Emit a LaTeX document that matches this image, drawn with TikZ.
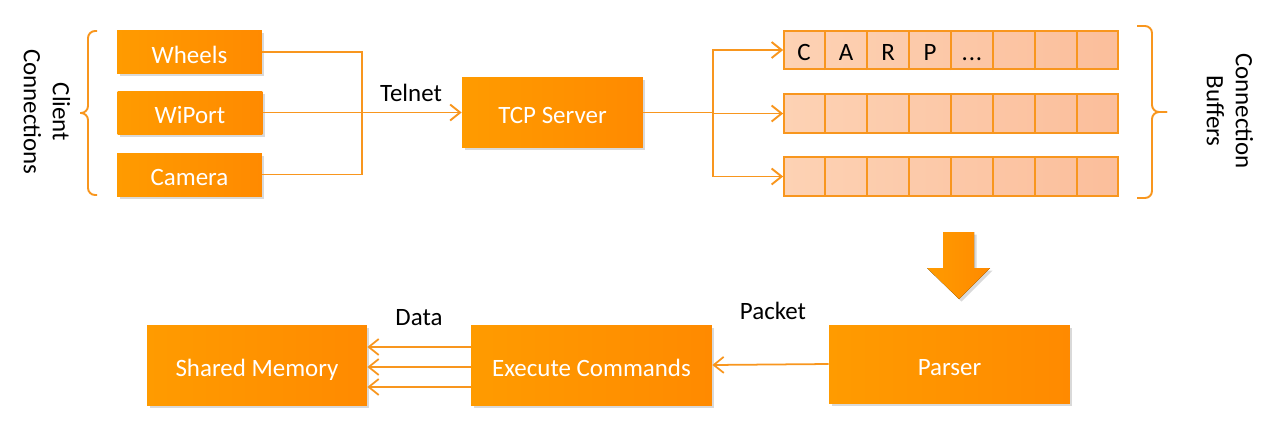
\documentclass[tikz,border=0pt]{standalone}
\usepackage{fontspec}
\setmainfont{Carlito}
\usetikzlibrary{calc,arrows.meta,shadows}
\definecolor{boxL}{RGB}{255,155,0}
\definecolor{boxR}{RGB}{255,138,0}
\definecolor{wire}{RGB}{248,150,30}
\definecolor{cellL}{RGB}{253,210,180}
\definecolor{cellR}{RGB}{251,190,155}
\def\celldots{.\kern0.5pt.\kern0.5pt.}
\tikzset{
	block/.style={left color=boxL, right color=boxR, text=white, inner sep=0pt,
		text height=0.44cm, text depth=0pt,
		drop shadow={shadow xshift=0.05cm, shadow yshift=-0.05cm, opacity=0.3}},
	wire/.style={draw=wire, line width=1.1pt},
	arr/.style={wire, -{Straight Barb[length=0.2cm, width=0.32cm]}},
	bufrow/.style={draw=wire, line width=1pt, left color=cellL, right color=cellR,
		minimum width=6.68cm, minimum height=0.77cm, inner sep=0pt},
	curly/.style={wire, rounded corners=4pt},
}

\begin{document}
\begin{tikzpicture}[x=0.02cm, y=-0.02cm, font=\fontsize{14.2}{16.5}\selectfont]
		%%%%% START %%%%%
		\useasboundingbox (0, 0) rectangle (1282, 437);
		
		\node[block, minimum width=2.9cm, minimum height=0.86cm] (wheels) at (189.5, 52) {Wheels};
		\node[block, minimum width=2.9cm, minimum height=0.86cm] (wiport) at (190, 112.5) {WiPort};
		\node[block, minimum width=2.9cm, minimum height=0.86cm] (camera) at (189.5, 174.5) {Camera};
		
		\draw[curly] (97, 31) -- (88, 31) -- (88, 113) -- (80, 113);
		\draw[curly] (97, 195) -- (88, 195) -- (88, 113) -- (80, 113);
		\node[rotate=-90, align=center] (clientlbl) at (47, 112) {Client\\Connections};
		
		\node[block, minimum width=3.62cm, minimum height=1.42cm] (tcp) at (552.5, 112.5) {TCP Server};
		
		\coordinate (join) at (362, 113);
		\draw[wire] (wheels.east) -| (join) |- (camera.east);
		\draw[arr] (wiport.east) -- (tcp.west);
		\node (telnet) at (411, 93) {Telnet};
		
		\node[bufrow] (buf1) at (951, 50) {};
		\node[bufrow] (buf2) at (951, 113.5) {};
		\node[bufrow] (buf3) at (951, 176.5) {};
		\foreach \r in {buf1, buf2, buf3}
			\foreach \i in {1,...,7}
				\draw[wire, line width=1pt] ($(\r.south west)!\i/8!(\r.south east)$) -- ($(\r.north west)!\i/8!(\r.north east)$);
		\foreach \ch [count=\i, evaluate=\i as \f using (2*\i-1)/16] in {C, A, R, P, \celldots}
			\node[text height=0.32cm, text depth=0pt] (ch\i) at ($(buf1.west)!\f!(buf1.east) + (0, 2)$) {\ch};
		
		\coordinate (split) at (713, 112.5);
		\draw[wire] (tcp.east) -- (split);
		\draw[arr] (split) |- (buf1.west);
		\draw[arr] (split) |- (buf2.west);
		\draw[arr] (split) |- (buf3.west);
		
		\draw[curly] (1137, 26) -- (1152, 26) -- (1152, 112) -- (1167, 112);
		\draw[curly] (1137, 198) -- (1152, 198) -- (1152, 112) -- (1167, 112);
		\node[rotate=-90, align=center] (buflbl) at (1230, 111) {Connection\\Buffers};
		
		\fill[left color=boxL, right color=boxR, drop shadow={shadow xshift=0.05cm, shadow yshift=-0.05cm, opacity=0.3}]
			(943, 232) -- (974, 232) -- (974, 268) -- (990, 268) -- (959, 299) -- (927, 268) -- (943, 268) -- cycle;
		
		\node[block, minimum width=4.4cm, minimum height=1.6cm] (shmem) at (257, 365) {Shared Memory};
		\node[block, minimum width=4.82cm, minimum height=1.6cm] (exec) at (591.5, 365) {Execute Commands};
		\node[block, minimum width=4.82cm, minimum height=1.56cm] (parser) at (949.5, 364) {Parser};
		
		\draw[arr, line width=1pt] (parser.west) -- (exec.east);
		\node (packet) at (773, 311) {Packet};
		
		\foreach \s in {0.36, -0.04, -0.44}
			\draw[arr, line width=1pt] ([yshift=\s cm]exec.west) -- ([yshift=\s cm]shmem.east);
		\node (data) at (419, 318) {Data};
		
		%%%%% END %%%%%
	\end{tikzpicture}
\end{document}
